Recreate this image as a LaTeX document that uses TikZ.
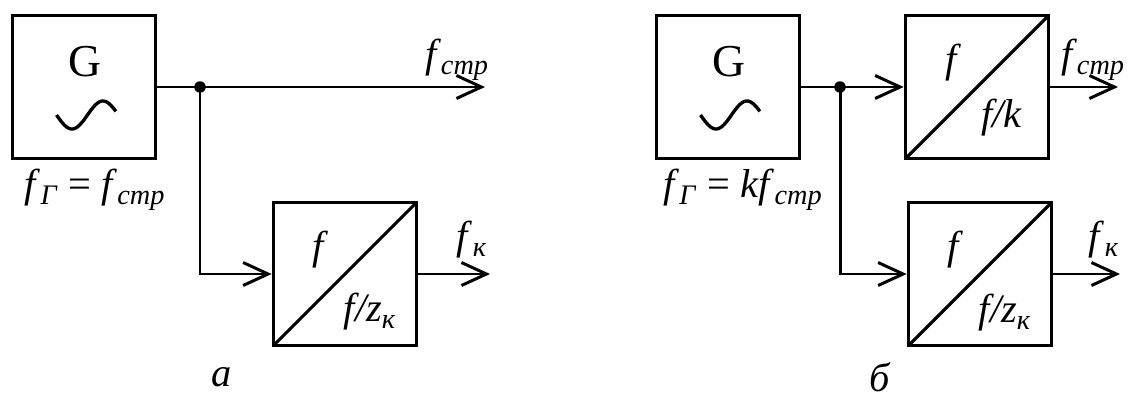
\documentclass[tikz,border=0pt]{standalone}
\usepackage{fontspec}
\setmainfont{Liberation Serif}
\usetikzlibrary{arrows.meta,calc,positioning}
\newcommand{\fsub}[1]{\textit{f}\textsubscript{\textit{#1}}}

\begin{document}
\begin{tikzpicture}[x=0.02cm,y=-0.02cm,font=\fontsize{23}{26}\selectfont,
  >={Straight Barb[length=0.5cm,width=0.46cm]},
  box/.style={draw,line width=2.1pt,minimum size=2.86cm,inner sep=0pt},
  divbox/.style={box,path picture={\draw[line width=1.8pt] (path picture bounding box.south west) -- (path picture bounding box.north east);}},
  wire/.style={line width=1.7pt},
  gname/.style={font=\fontsize{26}{28}\selectfont},
  dot/.style={circle,fill,inner sep=0pt,minimum size=0.23cm}]
  \useasboundingbox (0,0) rectangle (1141,399);
  % (a) generator drives the divider directly
  \node[box] (gen1) at (84,87) {};
  \node[gname] (gtxt1) at (85,62) {G};
  \draw[wire,line width=1.9pt,shift={(gen1.center)}] plot[domain=0:345,samples=49,smooth] ({-27.5+\x*0.172},{28+14*sin(\x)});
  \node (glab1) at (95,190) {\fsub{Г} = \fsub{стр}};
  \node[dot] (j1) at (200,87) {};
  \coordinate (out1) at (485,87);
  \node[divbox] (div1) at (345,274) {};
  \node (d1in) at ($(div1.center)+(-25,-24)$) {\textit{f}};
  \node (d1out) at ($(div1.center)+(25,38)$) {\textit{f/z}\textsubscript{\textit{к}}};
  \coordinate (out2) at (490,274);
  \draw[wire] (gen1.east |- j1) -- (j1.center);
  \draw[wire,->] (j1.center) -- (out1);
  \draw[wire,->] (j1.center) |- (div1.west);
  \draw[wire,->] (div1.east) -- (out2);
  \node (olab1) at (457,60) {\fsub{стр}};
  \node (olab2) at (472,240) {\fsub{к}};
  \node (cap1) at (222,377) {\textit{а}};
  % (b) generator at k times the frequency
  \node[box] (gen2) at (728,87) {};
  \node[gname] (gtxt2) at (729,62) {G};
  \draw[wire,line width=1.9pt,shift={(gen2.center)}] plot[domain=0:345,samples=49,smooth] ({-27.5+\x*0.172},{28+14*sin(\x)});
  \node (glab2) at (743,190) {\fsub{Г} = \textit{k}\fsub{стр}};
  \node[dot] (j2) at (840,87) {};
  \node[divbox] (div2) at (977,87) {};
  \node (d2in) at ($(div2.center)+(-24,-24)$) {\textit{f}};
  \node (d2out) at ($(div2.center)+(25,31)$) {\textit{f/k}};
  \node[divbox] (div3) at (980,274) {};
  \node (d3in) at ($(div3.center)+(-25,-24)$) {\textit{f}};
  \node (d3out) at ($(div3.center)+(25,39)$) {\textit{f/z}\textsubscript{\textit{к}}};
  \coordinate (out3) at (1118,87);
  \coordinate (out4) at (1120,274);
  \draw[wire] (gen2.east) -- (j2.center);
  \draw[wire,->] (j2.center) -- (div2.west);
  \draw[wire,->] (j2.center) |- (div3.west);
  \draw[wire,->] (div2.east) -- (out3);
  \draw[wire,->] (div3.east) -- (out4);
  \node (olab3) at (1093,60) {\fsub{стр}};
  \node (olab4) at (1104,240) {\fsub{к}};
  \node (cap2) at (880,377) {\textit{б}};
\end{tikzpicture}
\end{document}
